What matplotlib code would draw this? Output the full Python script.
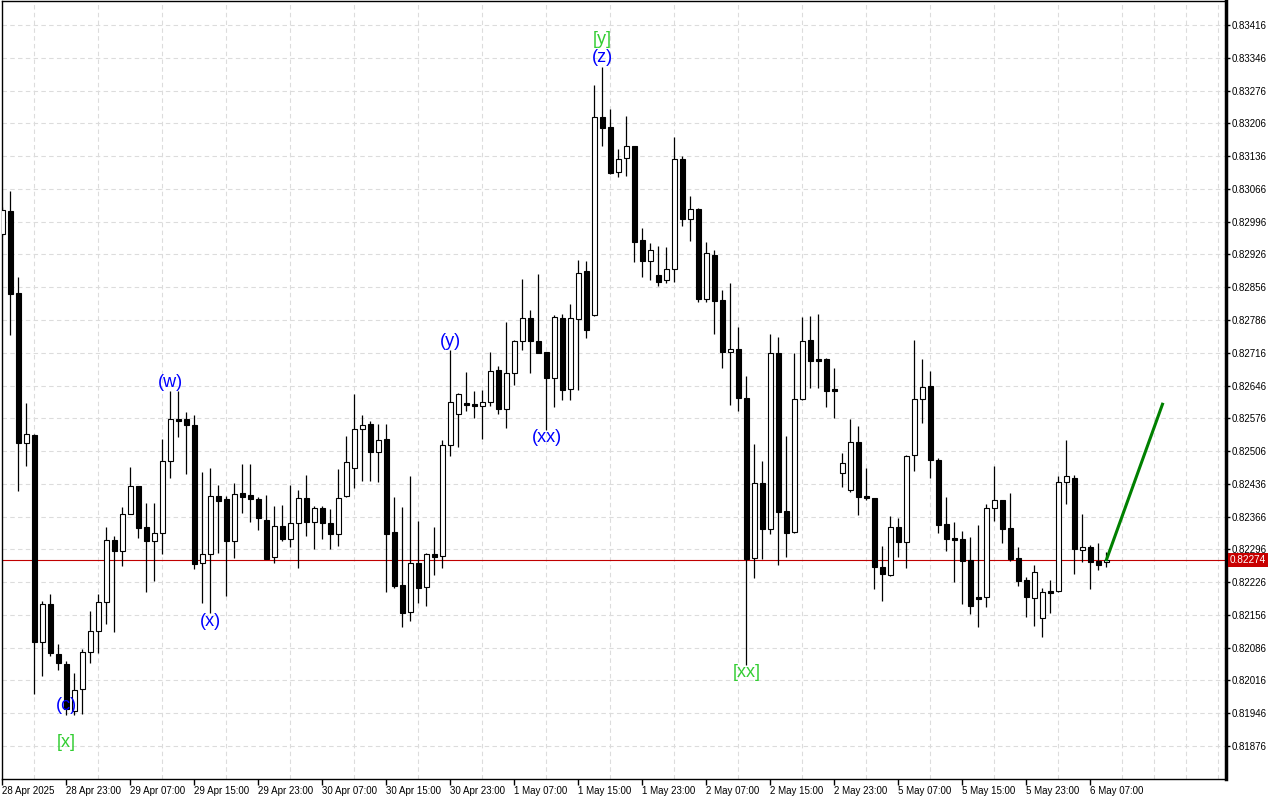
import matplotlib.pyplot as plt
import numpy as np

plt.rcParams['font.family'] = ['Liberation Sans', 'DejaVu Sans']

# hourly candles, prices in points (1e-5)
open_pts = [82970, 83019, 82844, 82523, 82540, 82098, 82179, 82072, 82051, 81951,
            81998, 82077, 82122, 82183, 82316, 82292, 82371, 82431, 82344, 82314,
            82331, 82485, 82575, 82574, 82562, 82267, 82286, 82410, 82404, 82314,
            82416, 82412, 82404, 82359, 82280, 82346, 82318, 82352, 82406, 82354,
            82384, 82352, 82329, 82410, 82470, 82553, 82564, 82504, 82532, 82333,
            82220, 82162, 82267, 82216, 82286, 82282, 82519, 82585, 82609, 82607,
            82602, 82611, 82679, 82596, 82673, 82741, 82790, 82741, 82718, 82662,
            82790, 82638, 82788, 82890, 82797, 83219, 83198, 83102, 83132, 83157,
            82957, 82912, 82882, 82871, 82895, 83130, 83002, 83023, 82831, 82925,
            82829, 82718, 82724, 82619, 82278, 82438, 82340, 82715, 82378, 82333,
            82617, 82743, 82703, 82703, 82638, 82459, 82423, 82525, 82410, 82406,
            82258, 82241, 82344, 82312, 82497, 82617, 82645, 82487, 82350, 82320,
            82318, 82273, 82194, 82194, 82384, 82401, 82342, 82278, 82231, 82192,
            82149, 82207, 82207, 82440, 82448, 82295, 82301, 82271, 82269]
high_pts = [83027, 83061, 82878, 82609, 82542, 82186, 82201, 82094, 82057, 82032,
            82083, 82164, 82201, 82344, 82324, 82386, 82472, 82431, 82395, 82395,
            82532, 82634, 82634, 82589, 82583, 82461, 82470, 82433, 82410, 82438,
            82478, 82478, 82408, 82412, 82389, 82391, 82433, 82423, 82455, 82389,
            82389, 82382, 82468, 82538, 82628, 82583, 82570, 82564, 82564, 82408,
            82386, 82453, 82357, 82288, 82344, 82530, 82722, 82630, 82675, 82634,
            82636, 82718, 82688, 82782, 82743, 82873, 82807, 82884, 82718, 82797,
            82799, 82820, 82914, 82912, 83288, 83326, 83237, 83151, 83222, 83157,
            82982, 82950, 82944, 82942, 83177, 83136, 83051, 83025, 82952, 82935,
            82850, 82865, 82771, 82666, 82521, 82485, 82756, 82750, 82538, 82715,
            82792, 82794, 82799, 82705, 82683, 82502, 82574, 82559, 82470, 82406,
            82303, 82367, 82363, 82497, 82743, 82703, 82677, 82491, 82408, 82354,
            82335, 82322, 82348, 82393, 82474, 82401, 82416, 82301, 82237, 82263,
            82213, 82231, 82453, 82530, 82455, 82371, 82305, 82310, 82290]
low_pts = [82965, 82754, 82421, 82474, 81987, 82025, 82068, 82038, 81942, 81942,
           81944, 82053, 82075, 82136, 82119, 82260, 82371, 82320, 82205, 82228,
           82286, 82448, 82536, 82457, 82254, 82181, 82160, 82288, 82196, 82278,
           82374, 82354, 82337, 82275, 82267, 82314, 82301, 82256, 82324, 82297,
           82318, 82297, 82303, 82408, 82427, 82442, 82442, 82440, 82205, 82213,
           82130, 82143, 82181, 82175, 82241, 82256, 82495, 82515, 82592, 82577,
           82532, 82602, 82585, 82555, 82647, 82722, 82673, 82715, 82551, 82600,
           82615, 82615, 82636, 82747, 82794, 83157, 83098, 83091, 83093, 82910,
           82878, 82871, 82858, 82865, 82867, 82987, 82955, 82824, 82824, 82756,
           82683, 82604, 82592, 82049, 82235, 82275, 82329, 82263, 82280, 82331,
           82615, 82641, 82641, 82600, 82577, 82429, 82418, 82369, 82401, 82211,
           82186, 82239, 82280, 82256, 82463, 82566, 82448, 82331, 82292, 82226,
           82179, 82158, 82130, 82173, 82357, 82310, 82271, 82218, 82152, 82132,
           82109, 82160, 82205, 82393, 82243, 82269, 82211, 82252, 82258]
close_pts = [83021, 82841, 82523, 82542, 82098, 82179, 82075, 82053, 81955, 81996,
             82077, 82122, 82183, 82316, 82292, 82371, 82431, 82342, 82314, 82331,
             82485, 82574, 82571, 82562, 82265, 82286, 82410, 82399, 82314, 82414,
             82408, 82404, 82363, 82275, 82346, 82318, 82352, 82406, 82354, 82384,
             82352, 82329, 82406, 82483, 82553, 82562, 82504, 82530, 82329, 82218,
             82160, 82267, 82213, 82286, 82280, 82519, 82611, 82628, 82604, 82602,
             82611, 82677, 82596, 82673, 82741, 82790, 82741, 82715, 82662, 82792,
             82636, 82790, 82886, 82764, 83219, 83196, 83100, 83130, 83157, 82952,
             82912, 82935, 82867, 82895, 83130, 83002, 83023, 82831, 82929, 82826,
             82718, 82724, 82619, 82275, 82438, 82340, 82715, 82376, 82331, 82617,
             82741, 82698, 82698, 82634, 82634, 82480, 82525, 82408, 82406, 82258,
             82243, 82344, 82312, 82495, 82617, 82643, 82487, 82348, 82318, 82316,
             82271, 82175, 82190, 82384, 82401, 82340, 82275, 82228, 82194, 82248,
             82205, 82203, 82440, 82453, 82297, 82301, 82269, 82263, 82274]

time_labels = ['28 Apr 2025', '28 Apr 23:00', '29 Apr 07:00', '29 Apr 15:00',
               '29 Apr 23:00', '30 Apr 07:00', '30 Apr 15:00', '30 Apr 23:00',
               '1 May 07:00', '1 May 15:00', '1 May 23:00', '2 May 07:00',
               '2 May 15:00', '2 May 23:00', '5 May 07:00', '5 May 15:00',
               '5 May 23:00', '6 May 07:00']
price_ticks = [0.81876 + 0.0007 * k for k in range(23)]

# wave labels: text, bar index, price
wave_text = ['(c)', '[x]', '(w)', '(x)', '(y)', '(xx)', '[y]', '(z)', '[xx]']
wave_bar = [8, 8, 21, 26, 56, 68, 75, 75, 93]
wave_price = [0.81963, 0.81884, 0.82653, 0.82141, 0.82739, 0.82534, 0.83384, 0.83346, 0.82032]
wave_color = ['#0000ff', '#32cd32', '#0000ff', '#0000ff', '#0000ff', '#0000ff',
              '#32cd32', '#0000ff', '#32cd32']

# projected move
proj_bar = [138, 145]
proj_price = [0.82274, 0.82606]

o = np.array(open_pts) / 1e5
h = np.array(high_pts) / 1e5
l = np.array(low_pts) / 1e5
c = np.array(close_pts) / 1e5
bars = np.arange(len(o))
up = c >= o

fig = plt.figure(figsize=(12.8, 8), dpi=100)
ax = fig.add_axes([2 / 1280, 21 / 800, 1224 / 1280, 778 / 800])

ax.vlines(bars, l, h, color='black', linewidth=0.9, zorder=2)
ax.bar(bars[up], (c - o)[up], bottom=o[up], width=0.55, color='white',
       edgecolor='black', linewidth=0.8, zorder=3)
ax.bar(bars[~up], (o - c)[~up], bottom=c[~up], width=0.55, color='black',
       edgecolor='black', linewidth=0.8, zorder=3)

ax.plot(proj_bar, proj_price, color='#008000', linewidth=2.2, zorder=4)

for t, b, p, col in zip(wave_text, wave_bar, wave_price, wave_color):
    ax.text(b, p, t, ha='center', va='center', color=col, fontsize=13, zorder=5)

# current price line and tag
ax.axhline(c[-1], color='#c00000', linewidth=0.8, zorder=1)
ax.text(1.003, c[-1], f'{c[-1]:.5f}', transform=ax.get_yaxis_transform(),
        ha='left', va='center', color='white', fontsize=7.2, zorder=6,
        bbox=dict(boxstyle='square,pad=0.2', fc='#c80000', ec='none'), clip_on=False)

ax.set_xlim(-0.0625, 152.94)
ax.set_ylim(0.818055, 0.834673)

ax.set_xticks(np.arange(0, 137, 8))
ax.set_xticklabels(time_labels, ha='left')
ax.set_xticks(np.arange(4, 153, 4), minor=True)
ax.yaxis.tick_right()
ax.set_yticks(price_ticks)
ax.set_yticklabels([f'{p:.5f}' for p in price_ticks])

ax.tick_params(axis='x', which='major', direction='out', length=4, width=1, pad=1, labelsize=7)
ax.tick_params(axis='x', which='minor', length=0)
ax.tick_params(axis='y', direction='out', length=3, width=1, pad=1, labelsize=7)

ax.grid(True, which='minor', axis='x', color='#dcdcdc', linestyle=(0, (4, 3)), linewidth=0.8, zorder=0)
ax.grid(True, which='major', axis='y', color='#dcdcdc', linestyle=(0, (4, 3)), linewidth=0.8, zorder=0)
ax.set_axisbelow(True)

for side in ['left', 'top', 'bottom']:
    ax.spines[side].set_linewidth(1)
ax.spines['right'].set_linewidth(2.5)

fig.savefig('out.png', dpi=100, facecolor='white')
